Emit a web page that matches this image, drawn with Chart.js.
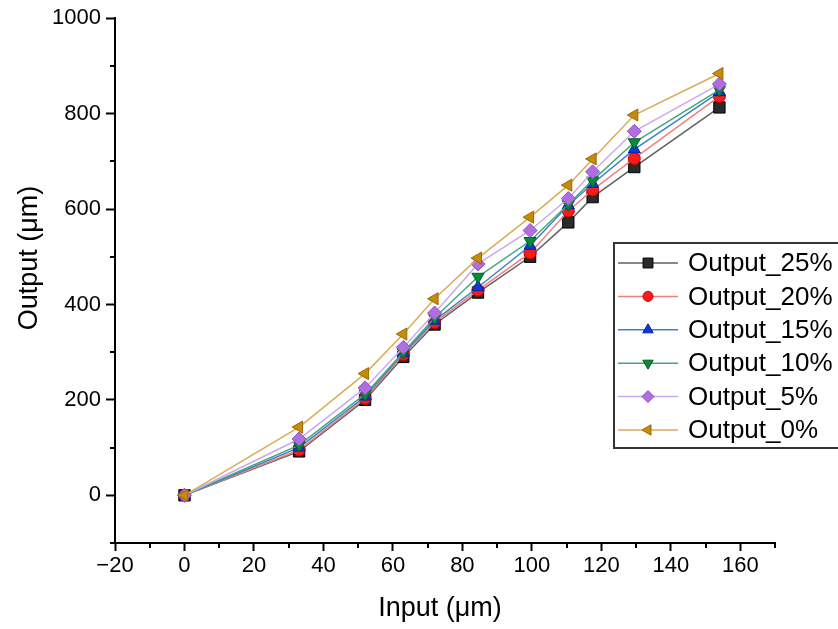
<!DOCTYPE html>
<html>
<head>
<meta charset="utf-8">
<script src="https://cdn.jsdelivr.net/npm/chart.js@4.4.1/dist/chart.umd.min.js"></script>
<style>
    html, body { margin: 0; padding: 0; background: #fff; }
    #wrap { width: 838px; height: 629px; }
</style>
</head>
<body>
<div id="wrap"><canvas id="chart"></canvas></div>
<script>
// values
const inputs = [0, 33, 52, 63, 72, 84.5, 99.5, 110.5, 117.5, 129.5, 154];
const output25 = [0, 92, 200, 290, 358, 425, 500, 572, 625, 688, 813];
const output20 = [0, 95, 203, 295, 362, 430, 508, 596, 640, 706, 836];
const output15 = [0, 100, 207, 298, 366, 436, 523, 608, 653, 725, 845];
const output10 = [0, 105, 212, 300, 372, 458, 533, 610, 660, 740, 850];
const output5 = [0, 118, 225, 310, 382, 485, 555, 622, 678, 763, 862];
const output0 = [0, 143, 255, 338, 412, 497, 583, 650, 705, 797, 884];

const xTicks = [-20, 0, 20, 40, 60, 80, 100, 120, 140, 160];
const xMinorTicks = [-10, 10, 30, 50, 70, 90, 110, 130, 150, 170];
const yTicks = [0, 200, 400, 600, 800, 1000];
const yMinorTicks = [-100, 100, 300, 500, 700, 900];

const FONT = "'Liberation Sans', Arial, sans-serif";

function points(values) {
    return inputs.map((x, i) => ({ x: x, y: values[i] }));
}

function series(label, values, line, fill, edge, style, rotation, radius, order) {
    return {
        label: label,
        data: points(values),
        showLine: true,
        borderColor: line,
        borderWidth: 1.5,
        pointBackgroundColor: fill,
        pointBorderColor: edge,
        pointBorderWidth: 1,
        pointStyle: style,
        pointRotation: rotation,
        pointRadius: radius,
        order: order,
    };
}

const datasets = [
    series('Output_25%', output25, '#606060', '#2b2b2b', '#000000', 'rect', 0, 8, 6),
    series('Output_20%', output20, '#f08080', '#ff1a1a', '#d00000', 'circle', 0, 6, 5),
    series('Output_15%', output15, '#4080c8', '#1038d8', '#0020a0', 'triangle', 0, 7, 4),
    series('Output_10%', output10, '#40a880', '#078a3a', '#006020', 'triangle', 180, 7, 3),
    series('Output_5%', output5, '#cca8ee', '#b06ee0', '#9050c0', 'rectRot', 0, 7, 2),
    series('Output_0%', output0, '#d8ac58', '#c88a08', '#9a6a00', 'triangle', -90, 7, 1),
];

const extras = {
    id: 'extras',
    afterDraw(chart) {
        const { ctx, chartArea, scales } = chart;
        ctx.save();

        // minor ticks
        ctx.strokeStyle = '#000';
        ctx.lineWidth = 2;
        xMinorTicks.forEach((v) => {
            const px = Math.round(scales.x.getPixelForValue(v));
            ctx.beginPath();
            ctx.moveTo(px, chartArea.bottom);
            ctx.lineTo(px, chartArea.bottom + 5);
            ctx.stroke();
        });
        yMinorTicks.forEach((v) => {
            const py = Math.round(scales.y.getPixelForValue(v));
            ctx.beginPath();
            ctx.moveTo(chartArea.left, py);
            ctx.lineTo(chartArea.left - 5, py);
            ctx.stroke();
        });

        // axis titles
        ctx.fillStyle = '#000';
        ctx.font = `27px ${FONT}`;
        ctx.textAlign = 'center';
        ctx.textBaseline = 'middle';
        ctx.fillText('Input (\u03bcm)', 440, 609);
        ctx.save();
        ctx.translate(30, 258);
        ctx.rotate(-Math.PI / 2);
        ctx.fillText('Output (\u03bcm)', 0, 0);
        ctx.restore();

        // legend box
        const top = 243;
        const step = 33.4;
        ctx.fillStyle = '#fff';
        ctx.fillRect(614, top, 240, 205);
        ctx.strokeStyle = '#333';
        ctx.lineWidth = 2;
        ctx.strokeRect(614, top, 240, 205);

        chart.data.datasets.forEach((ds, i) => {
            const y = top + 20 + i * step;
            ctx.strokeStyle = ds.borderColor;
            ctx.lineWidth = 1.5;
            ctx.beginPath();
            ctx.moveTo(618, y);
            ctx.lineTo(678, y);
            ctx.stroke();
            ctx.fillStyle = ds.pointBackgroundColor;
            ctx.strokeStyle = ds.pointBorderColor;
            ctx.lineWidth = 1;
            Chart.helpers.drawPoint(ctx, {
                pointStyle: ds.pointStyle,
                rotation: ds.pointRotation,
                radius: ds.pointRadius - 1,
                borderWidth: 1,
            }, 648, y);
            ctx.fillStyle = '#000';
            ctx.font = `26px ${FONT}`;
            ctx.textAlign = 'left';
            ctx.textBaseline = 'middle';
            ctx.fillText(ds.label, 688, y + 1);
        });

        ctx.restore();
    },
};

new Chart(document.getElementById('chart'), {
    type: 'scatter',
    data: { datasets: datasets },
    options: {
        responsive: true,
        maintainAspectRatio: false,
        animation: false,
        layout: {
            padding: { top: 17, right: 63, bottom: 0, left: 0 },
        },
        plugins: {
            legend: { display: false },
            tooltip: { enabled: false },
        },
        scales: {
            x: {
                type: 'linear',
                min: -20,
                max: 170,
                afterBuildTicks: (scale) => {
                    scale.ticks = xTicks.map((v) => ({ value: v }));
                },
                afterFit: (scale) => {
                    scale.height = 86;
                },
                grid: {
                    drawOnChartArea: false,
                    tickLength: 8,
                    tickWidth: 2,
                    tickColor: '#000',
                },
                border: { color: '#000', width: 2 },
                ticks: {
                    color: '#000',
                    padding: 2,
                    maxRotation: 0,
                    font: { family: FONT, size: 22 },
                    callback: (value) => (value < 0 ? '\u2212' + Math.abs(value) : String(value)),
                },
            },
            y: {
                type: 'linear',
                min: -100,
                max: 1000,
                afterBuildTicks: (scale) => {
                    scale.ticks = yTicks.map((v) => ({ value: v }));
                },
                afterFit: (scale) => {
                    scale.width = 115;
                },
                grid: {
                    drawOnChartArea: false,
                    tickLength: 9,
                    tickWidth: 2,
                    tickColor: '#000',
                },
                border: { color: '#000', width: 2 },
                ticks: {
                    color: '#000',
                    padding: 5,
                    font: { family: FONT, size: 22 },
                    callback: (value) => String(value),
                },
            },
        },
    },
    plugins: [extras],
});
</script>
</body>
</html>
